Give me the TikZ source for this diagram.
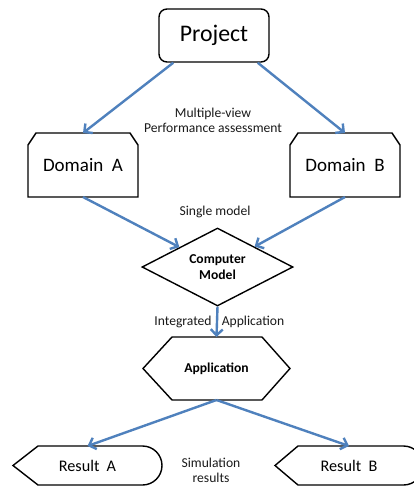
\documentclass[tikz,border=0pt]{standalone}
\usepackage{fontspec}
\setmainfont{Carlito}
\usetikzlibrary{arrows.meta,shapes.geometric}
\definecolor{arrowblue}{HTML}{4F81BD}
\definecolor{txt}{HTML}{1A1A1A}
\tikzset{
  outl/.style={draw=black, line width=1.4pt, line join=miter},
  conn/.style={draw=arrowblue, line width=2.4pt, -{Straight Barb[length=6pt,width=12pt]}},
  ghost/.style={draw=none, inner sep=0pt, outer sep=0pt},
  lbl/.style={text=txt, font=\fontsize{13.6}{15}\selectfont, align=center, inner sep=0pt},
}
\begin{document}
\begin{tikzpicture}[x=1pt,y=-1pt]
\useasboundingbox (0,0) rectangle (414,488);
\clip (0,0) rectangle (414,488);
\fill[white] (0,0) rectangle (414,488);

% Project
\node[outl, rounded corners=8pt, minimum width=110pt, minimum height=53pt, inner sep=0pt,
      font=\fontsize{23.8}{28}\selectfont] (proj) at (214,35.5) {Project};

% Domain A / B
\node[ghost, minimum width=110pt, minimum height=64pt, font=\fontsize{19}{22}\selectfont] (da) at (83,165) {Domain\ \ A};
\node[ghost, minimum width=110pt, minimum height=64pt, font=\fontsize{19}{22}\selectfont] (db) at (345,165) {Domain\ \ B};
\foreach \n in {da,db}{
  \draw[outl] (\n.south west) -- ([yshift=-12pt]\n.north west) -- ([xshift=8pt]\n.north west)
    -- ([xshift=-8pt]\n.north east) -- ([yshift=-12pt]\n.north east) -- (\n.south east) -- cycle;
}

% Computer model (diamond)
\node[outl, diamond, aspect=2, minimum width=151pt, minimum height=78pt, inner sep=0pt,
      align=center, font=\bfseries\fontsize{13.6}{16}\selectfont] (cm) at (217.5,267) {Computer\\Model};

% Application (hexagon)
\node[ghost, minimum width=147pt, minimum height=63pt, font=\bfseries\fontsize{13.6}{15}\selectfont] (app) at (216.5,368.5) {Application};
\draw[outl] (app.west) -- ([xshift=29pt]app.north west) -- ([xshift=-28pt]app.north east)
  -- (app.east) -- ([xshift=-28pt]app.south east) -- ([xshift=29pt]app.south west) -- cycle;

% Results
\node[ghost, minimum width=149pt, minimum height=39pt, font=\fontsize{16.2}{20}\selectfont] (ra) at (87.5,465.5) {Result\ \ A};
\node[ghost, minimum width=148pt, minimum height=39pt, font=\fontsize{16.2}{20}\selectfont] (rb) at (349,465.5) {Result\ \ B};
\draw[outl] (ra.west) -- ([xshift=25pt]ra.north west) -- ([xshift=-19.5pt]ra.north east)
  arc[start angle=90, end angle=-90, radius=19.5pt] -- ([xshift=25pt]ra.south west) -- cycle;
\draw[outl] (rb.west) -- ([xshift=23pt]rb.north west) -- ([xshift=-19.5pt]rb.north east)
  arc[start angle=90, end angle=-90, radius=19.5pt] -- ([xshift=23pt]rb.south west) -- cycle;

% Labels
\node[lbl] (l1) at (213,120.5) {Multiple-view\\Performance assessment};
\node[lbl] (l2) at (215,212) {Single model};
\node[lbl] (l3) at (183,322) {Integrated};
\node[lbl] (l4) at (253,322) {Application};
\node[lbl] (l5) at (211,470.5) {Simulation\\results};

% Connectors
\draw[conn] ([xshift=15pt]proj.south west) -- (da.north);
\draw[conn] ([xshift=-12pt]proj.south east) -- (db.north);
\draw[conn] (da.south) -- (cm);
\draw[conn] (db.south) -- (cm);
\draw[conn] (cm.south) -- (app.north);
\draw[conn] (app.south) -- (ra.north);
\draw[conn] (app.south) -- (rb.north);
\end{tikzpicture}
\end{document}
